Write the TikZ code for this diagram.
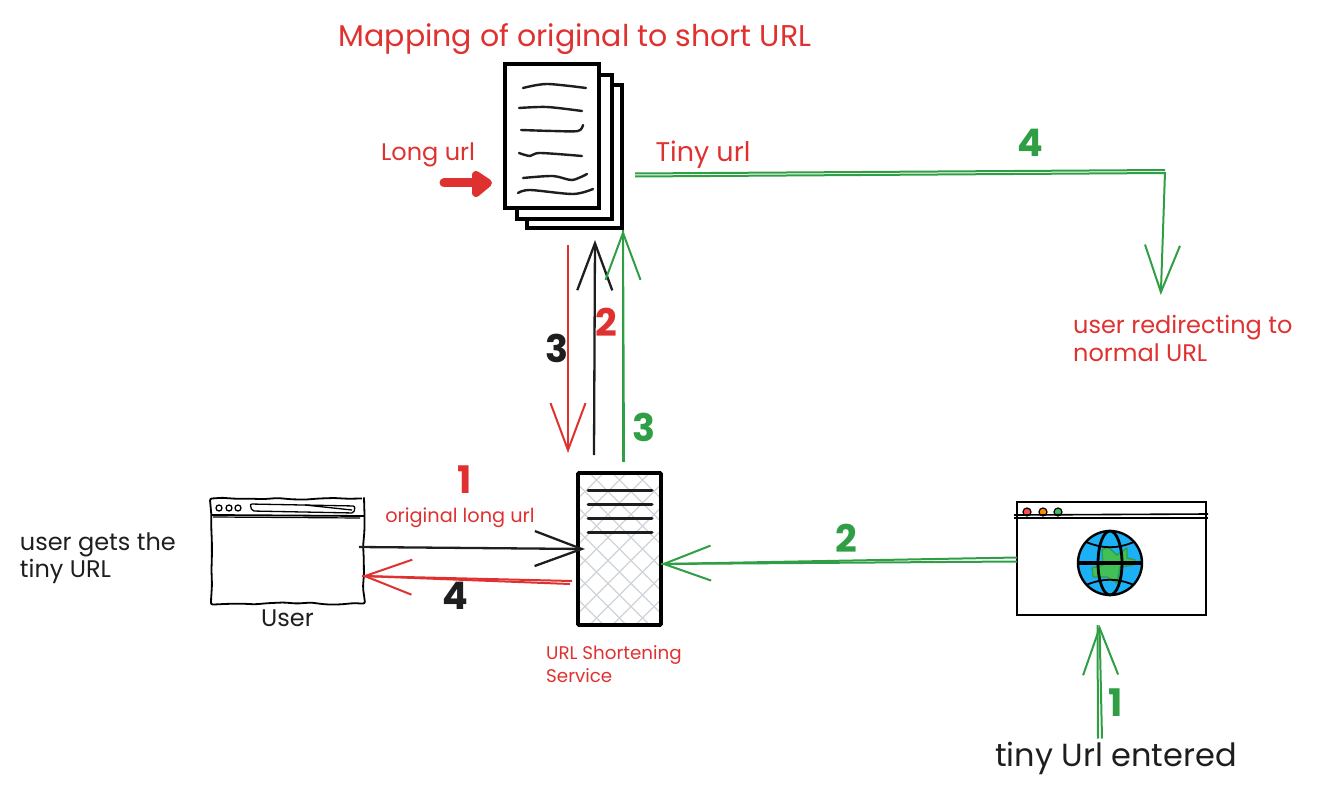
\documentclass[tikz,border=0pt]{standalone}
\usepackage{fontspec}
\setmainfont{Poppins}
\usepackage{xcolor}
\usetikzlibrary{arrows.meta,positioning,calc,decorations.pathmorphing}
\definecolor{sketchred}{HTML}{E03131}
\definecolor{sketchgreen}{HTML}{2F9E44}
\definecolor{sketchblack}{HTML}{1E1E1E}
\definecolor{hatchgray}{HTML}{CED4DA}
\definecolor{globeblue}{HTML}{1CB0F6}
\definecolor{landgreen}{HTML}{40C057}
\tikzset{
  page/.style={draw=black, line width=3.6pt, fill=white, inner sep=0pt, outer sep=0pt,
               minimum width=95pt, minimum height=144pt},
  docline/.style={line width=2.4pt, line cap=round, sketchblack},
  rackline/.style={line width=3pt, line cap=round, sketchblack},
  rack/.style={draw=black, line width=3.8pt, rounded corners=1pt, inner sep=0pt, outer sep=0pt,
               minimum width=83pt, minimum height=152pt,
               path picture={
                 \foreach \k in {-8,...,8} {
                   \draw[hatchgray, line width=1.3pt] (\k*23-100,-100) -- ++(200,200);
                   \draw[hatchgray, line width=1.3pt] (\k*23-100,100) -- ++(200,-200);
                 }}},
  wobble/.style={draw=black, line width=1.8pt, inner sep=0pt, outer sep=0pt,
                 minimum width=153pt, minimum height=105pt, rounded corners=2pt,
                 decorate, decoration={random steps, segment length=14pt, amplitude=1.1pt}},
  window/.style={draw=black, line width=2pt, inner sep=0pt, outer sep=0pt,
                 minimum width=189pt, minimum height=113pt},
  globe/.style={circle, draw=black, line width=2.4pt, fill=globeblue, inner sep=0pt,
                minimum size=64pt},
  dot/.style={circle, draw=black, line width=1.2pt, inner sep=0pt, minimum size=8pt},
  label/.style={inner sep=0pt, align=left},
  redbig/.style={label, text=sketchred, font=\fontsize{30}{34}\selectfont},
  rednote/.style={label, text=sketchred, font=\fontsize{24}{28}\selectfont},
  redsmall/.style={label, text=sketchred, font=\fontsize{18.3}{23}\selectfont},
  blacknote/.style={label, text=sketchblack, font=\fontsize{24}{27}\selectfont},
  blackbig/.style={label, text=sketchblack, font=\fontsize{32}{36}\selectfont},
  numred/.style={label, text=sketchred, font=\bfseries\fontsize{38}{40}\selectfont},
  numgreen/.style={label, text=sketchgreen, font=\bfseries\fontsize{38}{40}\selectfont},
  numblack/.style={label, text=sketchblack, font=\bfseries\fontsize{38}{40}\selectfont},
  barb/.style={-{Straight Barb[length=47pt,width=35pt]}},
  redarrow/.style={barb, sketchred, line width=2pt},
  greenarrow/.style={barb, sketchgreen, line width=2pt},
  blackarrow/.style={barb, sketchblack, line width=2.3pt},
  redstroke/.style={sketchred, line width=2pt},
  greenstroke/.style={sketchgreen, line width=2pt}
}

\begin{document}
\begin{tikzpicture}[x=1pt,y=-1pt]
  \useasboundingbox (0,0) rectangle (1318,797);
  \pgfmathsetseed{7}
  % document stack
  \node[page, minimum height=143pt] (backpage) at (574.5,156.5) {};
  \node[page] (midpage) at (564.5,147) {};
  \node[page, minimum width=94pt] (frontpage) at (552,136) {};
  \draw[docline] plot[smooth] coordinates {(523,88) (547,84) (586,88)};
  \draw[docline] plot[smooth] coordinates {(519,108) (547,107) (582,111)};
  \draw[docline] plot[smooth] coordinates {(521,130) (553,131) (578,131) (583,125)};
  \draw[docline] plot[smooth] coordinates {(519,153) (530,156) (540,153) (582,156)};
  \draw[docline] plot[smooth] coordinates {(523,178) (553,176) (572,180) (587,174)};
  \draw[docline] plot[smooth] coordinates {(518,193) (530,190) (573,194) (593,189)};
  \node[redbig] (mapping) at (575,39) {Mapping of original to short URL};
  \node[rednote] (longurl) at (428,155) {Long url};
  \node[rednote, font=\fontsize{27}{30}\selectfont] (tinyurl) at (703,155) {Tiny url};
  \coordinate (longtail) at (444,183);
  \draw[sketchred, line width=9pt, line cap=round] (longtail) -- ([xshift=-30]frontpage.west |- longtail);
  \fill[sketchred, draw=sketchred, line width=8pt, line join=round]
    (476,175) -- (488,183) -- (476,193) -- cycle;

  % server and user
  \node[rack] (server) at (619.5,549) {};
  \foreach \y in {490,504,518,532}
    \draw[rackline] (588,\y) -- (652,\y);
  \node[redsmall, below=20pt of server.south west, anchor=north west, xshift=-32pt] (service) {URL Shortening\\Service};
  \node[wobble] (user) at (287.5,551) {};
  \draw[line width=1.8pt] (212,515) -- (364,516);
  \draw[line width=1.2pt] (213,517) -- (360,518);
  \foreach \x in {219,229,238}
    \draw[line width=1.3pt] (\x,508) circle (3);
  \draw[line width=1.3pt, rounded corners=2pt] (250,504) -- (355,506) -- (354,513) -- (252,511) -- cycle;
  \draw[line width=1.3pt] (305,505) -- (352,510);
  \node[blacknote, below=6pt of user] (userlabel) {User};
  \node[blacknote, left=35pt of user.west, yshift=-7pt] (gets) {user gets the\\tiny URL};

  % browser with globe
  \node[window] (browser) at (1111.5,558.5) {};
  \node[dot, fill=red!70!white] (dotred) at (1027,512) {};
  \node[dot, fill=orange!90!yellow] (dotorange) at (1043,512) {};
  \node[dot, fill=landgreen] (dotgreen) at (1058,512) {};
  \draw[line width=1.6pt] (1014,515) -- (1208,514);
  \draw[line width=1.6pt] (1014,518) -- (1208,518);
  \node[globe] (globe) at (1110,563) {};
  \fill[landgreen, draw=sketchgreen, line width=1.4pt, line join=round]
    (1102,550) -- (1108,547) -- (1117,555) -- (1127,548) -- (1127,558) -- (1135,560) -- (1133,565)
    -- (1120,567) -- (1117,583) -- (1107,577) -- (1093,577) -- (1092,568) -- (1103,565) -- cycle;
  \draw[line width=2.8pt] (globe.center) ellipse (12 and 32);
  \draw[line width=3.4pt] (globe.west) -- (globe.east);
  \draw[line width=1.8pt] (1086,542) to[bend right=22] (1134,542);
  \draw[line width=1.8pt] (1086,585) to[bend left=22] (1134,585);
  \node[blackbig] (entered) at (1116,758) {tiny Url entered};

  % red flow
  \draw[blackarrow] ([xshift=-5,yshift=4]user.east) -- ([xshift=7]server.west);
  \draw[redarrow] ([xshift=-6,yshift=-32]server.west) -- ([xshift=-2,yshift=-25]user.east);
  \draw[redstroke] ([xshift=-8,yshift=-35]server.west) -- ([xshift=-2,yshift=-25]user.east);
  \draw[redarrow] ([xshift=-6.5,yshift=-17]backpage.south) -- ([xshift=-51.5,yshift=20]server.north);
  \draw[blackarrow] ([xshift=-25.5,yshift=18]server.north) -- ([xshift=20.5,yshift=-12]backpage.south);
  \draw[greenarrow] ([xshift=3.5,yshift=11]server.north) -- ([xshift=48.5,yshift=-2]backpage.south);
  \draw[greenstroke] ([xshift=4.5,yshift=11]server.north) -- ([xshift=48.5,yshift=-2]backpage.south);

  % green flow
  \coordinate (bend) at (1165,170);
  \node[rednote, anchor=north west] (redirect) at (1073,315) {user redirecting to\\normal URL};
  \draw[greenstroke] ([xshift=13,yshift=-17]backpage.east) -- (bend);
  \draw[greenstroke] ([xshift=13,yshift=-20]backpage.east) -- ([yshift=-3]bend);
  \draw[greenarrow] ([yshift=-2]bend) -- ([xshift=-22,yshift=20]redirect.north);
  \draw[greenarrow] ([yshift=1]browser.west) -- ([yshift=-15]server.east);
  \draw[greenstroke] ([yshift=-3]browser.west) -- ([yshift=-15]server.east);
  \draw[greenarrow] ([xshift=-14,yshift=3]entered.north) -- ([xshift=-12,yshift=-10]browser.south);
  \draw[greenstroke] ([xshift=-18,yshift=3]entered.north) -- ([xshift=-14,yshift=-10]browser.south);

  % step numbers
  \node[numgreen] (greenfour) at (1030,143) {4};
  \node[numblack] (blackthree) at (557,348) {3};
  \node[numred] (redtwo) at (606,322) {2};
  \node[numgreen] (greenthree) at (644,427) {3};
  \node[numred] (redone) at (465,480) {1};
  \node[redsmall, font=\fontsize{19.3}{22}\selectfont] (original) at (460,518) {original long url};
  \node[numblack] (blackfour) at (455,596) {4};
  \node[numgreen] (greentwo) at (846,538) {2};
  \node[numgreen] (greenone) at (1116,703) {1};
\end{tikzpicture}
\end{document}
